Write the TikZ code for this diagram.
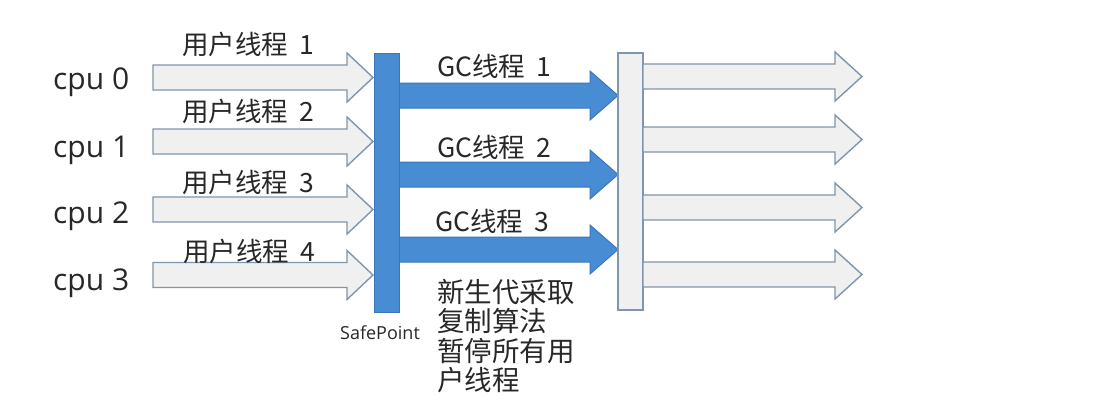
\documentclass[tikz,border=0pt]{standalone}
\usepackage{fontspec}
\newfontfamily\cjk{Noto Sans CJK SC}
\newfontfamily\lat{Open Sans}
\definecolor{bluefill}{RGB}{72,141,212}
\definecolor{blueline}{RGB}{58,118,186}
\definecolor{grayfill}{RGB}{240,240,240}
\definecolor{grayline}{RGB}{128,150,172}
\definecolor{txt}{RGB}{40,40,40}
\newcommand\blockarr[5]{%
  \draw[#1] (#2,#4-12.5) -- ({#3-#5},#4-12.5) -- ({#3-#5},#4-24.5) -- (#3,#4)
    -- ({#3-#5},#4+24.5) -- ({#3-#5},#4+12.5) -- (#2,#4+12.5) -- cycle;}
\newcommand\gap{\hspace{0.42em}}
\begin{document}
\begin{tikzpicture}[x=1pt,y=-1pt,
  grayarr/.style={draw=grayline,fill=grayfill,line width=1.4pt,line join=miter},
  bluearr/.style={draw=blueline,fill=bluefill,line width=1pt},
  bluebar/.style={draw=blueline,fill=bluefill,line width=1pt,inner sep=0pt,minimum width=25pt,minimum height=259pt},
  graybar/.style={draw=grayline,fill=grayfill,line width=1.4pt,inner sep=0pt,minimum width=25pt,minimum height=257pt},
  cpulbl/.style={anchor=base west,inner sep=0pt,text=txt,font=\lat\fontsize{30}{32}\selectfont},
  cjklbl/.style={anchor=base west,inner sep=0pt,text=txt,font=\cjk\fontsize{26.5}{28}\selectfont},
  notelbl/.style={anchor=base west,inner sep=0pt,text=txt,font=\cjk\fontsize{27.5}{29}\selectfont},
  splbl/.style={anchor=base,inner sep=0pt,text=txt,font=\lat\fontsize{18}{20}\selectfont}]
\useasboundingbox[fill=white] (0,0) rectangle (1115,418);
% left user-thread arrows
\blockarr{grayarr}{153}{373}{77.5}{26}
\blockarr{grayarr}{153}{373}{141.5}{26}
\blockarr{grayarr}{153}{373}{209.5}{26}
\blockarr{grayarr}{153}{373}{275}{26}
% GC arrows
\blockarr{bluearr}{395}{618}{95.5}{28}
\blockarr{bluearr}{395}{618}{174.5}{28}
\blockarr{bluearr}{395}{618}{249.5}{28}
% bars
\node[bluebar] (sp) at (386.5,182.5) {};
\node[graybar] (rb) at (630.5,181.5) {};
% right arrows
\blockarr{grayarr}{643}{862}{76.5}{27}
\blockarr{grayarr}{643}{862}{139.5}{27}
\blockarr{grayarr}{643}{862}{207.5}{27}
\blockarr{grayarr}{643}{862}{274.5}{27}
% cpu labels
\node[cpulbl] (c0) at (53,89) {cpu 0};
\node[cpulbl] (c1) at (53,157) {cpu 1};
\node[cpulbl] (c2) at (53,223) {cpu 2};
\node[cpulbl] (c3) at (53,290) {cpu 3};
% user thread labels
\node[cjklbl] (u1) at (182,54) {用户线程\gap 1};
\node[cjklbl] (u2) at (182,121) {用户线程\gap 2};
\node[cjklbl] (u3) at (182,192) {用户线程\gap 3};
\node[cjklbl] (u4) at (183,261) {用户线程\gap 4};
% GC labels
\node[cjklbl] (g1) at (437,76) {GC线程\gap 1};
\node[cjklbl] (g2) at (437,157) {GC线程\gap 2};
\node[cjklbl] (g3) at (435,231) {GC线程\gap 3};
% SafePoint
\node[splbl] (spl) at (380,339) {SafePoint};
% note
\node[notelbl] (n1) at (437,302) {新生代采取};
\node[notelbl] (n2) at (437,331) {复制算法};
\node[notelbl] (n3) at (437,361) {暂停所有用};
\node[notelbl] (n4) at (437,390) {户线程};
\end{tikzpicture}
\end{document}
